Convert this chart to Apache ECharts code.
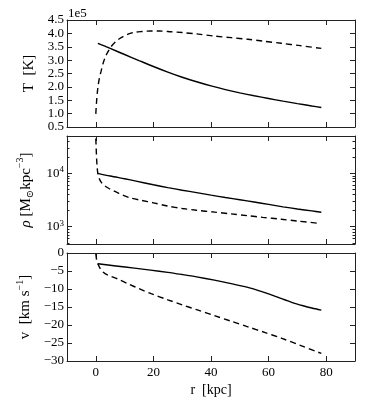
<!DOCTYPE html>
<html>
<head>
<meta charset="utf-8">
<script src="https://cdn.jsdelivr.net/npm/echarts@6/dist/echarts.min.js"></script>
<style>html,body{margin:0;padding:0;background:#fff;}#c{width:374px;height:406px;}</style>
</head>
<body>
<div id="c"></div>
<script>
// ---- data ----
const xTicks = [0, 20, 40, 60, 80];
const rhoMinorTicks = [500, 600, 700, 800, 900, 2000, 3000, 4000, 5000, 6000, 7000, 8000, 9000, 20000, 30000, 40000];

// Temperature [K], dashed and solid
const rTd = [0, 0.3, 0.7, 1.2, 1.8, 2.6, 3.6, 5.3, 7, 8.8, 11, 13.4, 16, 19.2, 22, 26.2, 30, 35, 41.2, 47, 52.8, 58, 64.4, 71, 78.3];
const Td  = [99000, 150000, 196000, 230000, 257000, 290000, 319000, 350000, 370000, 384000, 396000, 404000, 407000, 409000, 409000, 406000, 403000, 398000, 390000, 384000, 378000, 371000, 363000, 354000, 344000];
const rTs = [0.7, 5, 10, 15, 20, 25, 30, 35, 40, 45, 50, 55, 60, 65, 70, 75, 78.3];
const Ts  = [363000, 343600, 321000, 298500, 276200, 255200, 236000, 219000, 203500, 189800, 177700, 166700, 156500, 146700, 137500, 128700, 123100];

// Density [Msun kpc^-3]
const rRhoS = [0.7, 5, 10, 14, 20, 25, 30, 35, 40, 45, 50, 55, 60, 65, 70, 75, 78.3];
const rhoS  = [10000, 8900, 7900, 7150, 6100, 5400, 4830, 4350, 3900, 3520, 3200, 2900, 2620, 2360, 2150, 1980, 1870];
const rRhoD = [0, 0.15, 0.3, 0.5, 0.7, 1.2, 1.8, 3, 4.6, 8, 11.7, 16, 20, 25, 30, 35, 41.2, 47, 52.8, 58, 64.4, 70, 78];
const rhoD  = [45000, 28000, 18000, 12500, 10000, 8000, 6900, 5900, 5200, 4200, 3500, 3100, 2800, 2440, 2200, 2030, 1880, 1740, 1610, 1500, 1380, 1280, 1150];

// Velocity [km/s]
const rVs = [0.7, 7, 13.4, 19, 25, 30, 35, 41.2, 47, 52.8, 56, 60, 64, 68, 72, 75, 78.3];
const vS  = [-3.0, -3.6, -4.2, -4.75, -5.37, -5.98, -6.63, -7.55, -8.5, -9.55, -10.3, -11.35, -12.55, -13.7, -14.65, -15.27, -15.85];
const rVd = [0, 0.2, 0.4, 0.7, 1.5, 2.5, 4, 7.6, 11.6, 15, 19.2, 25, 30, 35, 41.2, 47, 52.8, 58.6, 64.4, 71, 78.3];
const vD  = [-0.2, -1.5, -2.3, -3.0, -4.3, -5.3, -6.1, -7.2, -8.7, -9.9, -11.3, -13.0, -14.4, -15.75, -17.4, -18.95, -20.5, -22.05, -23.65, -25.65, -27.9];

// ---- chart ----
const FONT = "'Liberation Serif', 'DejaVu Serif', serif";
const AX = '#222';
const pair = (xs, ys) => xs.map((x, i) => [x, ys[i]]);
const minus = v => (v < 0 ? '\u2212' + Math.abs(v) : String(v));

const grids = [
  { left: 67, right: 19, top: 20, height: 107 },
  { left: 67, right: 19, top: 136, height: 108 },
  { left: 67, right: 19, top: 253, height: 108 }
];

function xAxes(gi) {
  const base = {
    gridIndex: gi, type: 'value', min: -10, max: 90,
    axisLine: { show: true, onZero: false, lineStyle: { color: AX, width: 1 } },
    axisTick: { show: true, inside: true, length: 5, lineStyle: { color: AX }, customValues: xTicks },
    splitLine: { show: false }
  };
  const bottom = Object.assign({}, base, {
    position: 'bottom',
    axisLabel: gi === 2
      ? { show: true, customValues: xTicks, color: '#000', fontFamily: FONT, fontSize: 13, margin: 5 }
      : { show: false }
  });
  if (gi === 2) {
    bottom.name = 'r  [kpc]';
    bottom.nameLocation = 'middle';
    bottom.nameGap = 22;
    bottom.nameTextStyle = { color: '#000', fontFamily: FONT, fontSize: 14 };
  }
  const top = Object.assign({}, base, { position: 'top', axisLabel: { show: false } });
  return [bottom, top];
}

const richName = {
  n: { fontFamily: FONT, fontSize: 15, color: '#000', lineHeight: 20 },
  i: { fontFamily: FONT, fontSize: 15, fontStyle: 'italic', color: '#000', lineHeight: 20 },
  sup: { fontFamily: FONT, fontSize: 10, color: '#000', verticalAlign: 'top', lineHeight: 10 },
  sub: { fontFamily: FONT, fontSize: 10, color: '#000', verticalAlign: 'bottom', lineHeight: 10 }
};

function yPair(gi, scaleOpts, labelOpts, name, nameGap) {
  const common = Object.assign({
    gridIndex: gi,
    axisLine: { show: true, onZero: false, lineStyle: { color: AX, width: 1 } },
    axisTick: { show: true, inside: true, length: 5, lineStyle: { color: AX } },
    splitLine: { show: false }
  }, scaleOpts);
  const left = Object.assign({}, common, {
    position: 'left',
    axisLabel: Object.assign({ color: '#000', fontFamily: FONT, fontSize: 13, margin: 3 }, labelOpts),
    name: name, nameLocation: 'middle', nameRotate: 90, nameGap: nameGap,
    nameTextStyle: { fontFamily: FONT, fontSize: 15, color: '#000', rich: richName }
  });
  const right = Object.assign({}, common, { position: 'right', axisLabel: { show: false } });
  return [left, right];
}

const rhoScale = { type: 'log', logBase: 10, min: 475, max: 50000 };

const yA = []
  .concat(yPair(0, { type: 'value', min: 50000, max: 450000, interval: 50000 },
    { formatter: v => (v / 1e5).toFixed(1) }, '{n|T  [K]}', 20))
  .concat(yPair(1, rhoScale,
    {
      formatter: v => {
        const l = Math.log10(v), e = Math.round(l);
        return Math.abs(l - e) < 1e-6 ? '{b|10}{s|' + e + '}' : '';
      },
      rich: {
        b: { fontFamily: FONT, fontSize: 13, color: '#000', lineHeight: 16 },
        s: { fontFamily: FONT, fontSize: 9, color: '#000', verticalAlign: 'top', lineHeight: 9 }
      }
    }, '{i|ρ} {n|[M}{sub|⊙}{n|kpc}{sup|−3}{n|]}', 27))
  .concat(yPair(2, { type: 'value', min: -30, max: 0, interval: 5 },
    { formatter: minus }, '{n|v  [km s}{sup|−1}{n|]}', 25));

// minor log ticks for the density panel (indices 6 and 7)
['left', 'right'].forEach(pos => {
  yA.push(Object.assign({
    gridIndex: 1, position: pos,
    axisLine: { show: false, onZero: false },
    axisTick: { show: true, inside: true, length: 2.5, lineStyle: { color: AX }, customValues: rhoMinorTicks },
    axisLabel: { show: false },
    splitLine: { show: false }
  }, rhoScale));
});

const xA = [].concat(xAxes(0), xAxes(1), xAxes(2));

function line(data, gi, dashed) {
  return {
    type: 'line', xAxisIndex: gi * 2, yAxisIndex: gi * 2, data: data,
    showSymbol: false, smooth: 0.3, silent: true, clip: true,
    lineStyle: { color: '#000', width: 1.4, type: dashed ? [6, 4] : 'solid' }
  };
}

const chart = echarts.init(document.getElementById('c'), null, { renderer: 'canvas' });
chart.setOption({
  backgroundColor: '#fff',
  animation: false,
  grid: grids,
  xAxis: xA,
  yAxis: yA,
  graphic: [{
    type: 'text', left: 68, top: 7,
    style: { text: '1e5', fontFamily: FONT, fontSize: 13, fill: '#000' }
  }],
  series: [
    line(pair(rTd, Td), 0, true),
    line(pair(rTs, Ts), 0, false),
    line(pair(rRhoS, rhoS), 1, false),
    line(pair(rRhoD, rhoD), 1, true),
    line(pair(rVs, vS), 2, false),
    line(pair(rVd, vD), 2, true)
  ]
});
</script>
</body>
</html>
